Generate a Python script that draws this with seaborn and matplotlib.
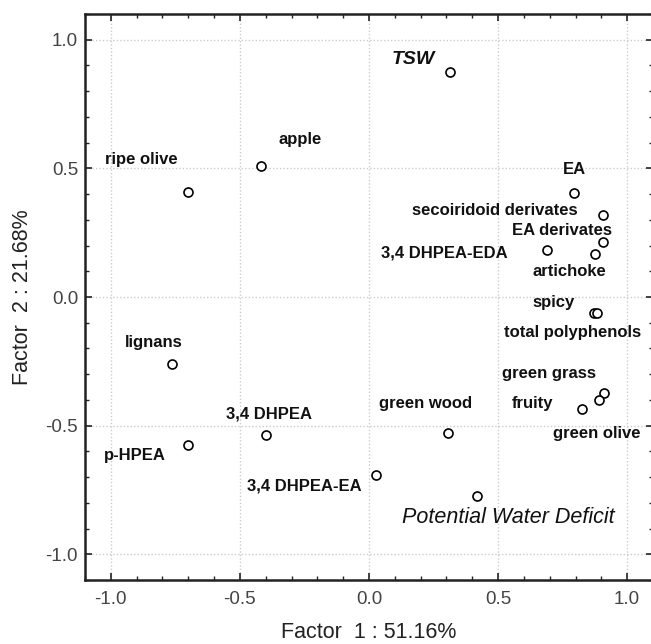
import matplotlib
matplotlib.use("Agg")
import matplotlib.pyplot as plt
import seaborn as sns
import pandas as pd
from matplotlib.ticker import MultipleLocator

# ---- data ----
labels = ["TSW", "ripe olive", "apple", "EA", "secoiridoid derivates", "EA derivates",
          "3,4 DHPEA-EDA", "artichoke", "spicy", "total polyphenols", "green grass",
          "green olive", "fruity", "green wood", "3,4 DHPEA-EA", "Potential Water Deficit",
          "lignans", "3,4 DHPEA", "p-HPEA"]
factor1 = [0.314, -0.70, -0.42, 0.795, 0.907, 0.907, 0.69, 0.876, 0.87, 0.885, 0.91,
           0.89, 0.826, 0.306, 0.027, 0.419, -0.764, -0.40, -0.70]
factor2 = [0.876, 0.407, 0.51, 0.403, 0.32, 0.213, 0.182, 0.167, -0.062, -0.062, -0.372,
           -0.40, -0.434, -0.53, -0.69, -0.775, -0.26, -0.535, -0.574]
x_label = "Factor  1 : 51.16%"
y_label = "Factor  2 : 21.68%"
ticks = [-1.0, -0.5, 0.0, 0.5, 1.0]

# label placement: (dx, dy) pixel offsets, horizontal alignment, style
label_layout = {
    "TSW": (-37, 12, "center", "tsw"),
    "ripe olive": (-47, 33, "center", "b"),
    "apple": (40, 26, "center", "b"),
    "EA": (0, 24, "center", "b"),
    "secoiridoid derivates": (-26, 4, "right", "b"),
    "EA derivates": (-41, 12, "center", "b"),
    "3,4 DHPEA-EDA": (-40, -3, "right", "b"),
    "artichoke": (-26, -17, "center", "b"),
    "spicy": (-40, 10, "center", "b"),
    "total polyphenols": (-25, -20, "center", "b"),
    "green grass": (-55, 19, "center", "b"),
    "green olive": (-2, -34, "center", "b"),
    "fruity": (-50, 5, "center", "b"),
    "green wood": (-22, 30, "center", "b"),
    "3,4 DHPEA-EA": (-14, -11, "right", "b"),
    "Potential Water Deficit": (31, -21, "center", "pwd"),
    "lignans": (-18, 21, "center", "b"),
    "3,4 DHPEA": (3, 21, "center", "b"),
    "p-HPEA": (-53, -11, "center", "b"),
}

df = pd.DataFrame({"label": labels, "f1": factor1, "f2": factor2})

sns.set_theme(style="white")
plt.rcParams["font.family"] = ["Liberation Sans", "DejaVu Sans"]

W, H = 651, 644
fig = plt.figure(figsize=(W / 100, H / 100), dpi=100)
left, right, top, bottom = 85, 653, 14, 580
ax = fig.add_axes([left / W, (H - bottom) / H, (right - left) / W, (bottom - top) / H])

sns.scatterplot(data=df, x="f1", y="f2", ax=ax, marker="o", s=42,
                facecolor="white", edgecolor="black", linewidth=1.2, zorder=3)

ax.set_xlim(-1.1, 1.1)
ax.set_ylim(-1.1, 1.1)
ax.set_xticks(ticks)
ax.set_yticks(ticks)
ax.set_xticklabels([f"{t:.1f}" for t in ticks])
ax.set_yticklabels([f"{t:.1f}" for t in ticks])
ax.xaxis.set_minor_locator(MultipleLocator(0.1))
ax.yaxis.set_minor_locator(MultipleLocator(0.1))
ax.tick_params(which="both", direction="in", top=True, right=True, bottom=True, left=True,
               color="#222222")
ax.tick_params(which="major", length=5, width=1.2, labelsize=13.5, labelcolor="#444444")
ax.tick_params(axis="x", which="major", pad=8)
ax.tick_params(axis="y", which="major", pad=5)
ax.tick_params(which="minor", length=3, width=1.0)
ax.grid(True, which="major", linestyle=(0, (1, 1.5)), color="#cccccc", linewidth=1.0)
for sp in ax.spines.values():
    sp.set_color("#222222")
    sp.set_linewidth(1.8)

ax.set_xlabel(x_label, fontsize=15.5, color="#222222", labelpad=10)
ax.set_ylabel(y_label, fontsize=15.5, color="#222222", labelpad=9)

for _, row in df.iterrows():
    dx, dy, ha, style = label_layout[row["label"]]
    kw = dict(fontsize=12, fontweight="bold", fontstyle="normal")
    if style == "tsw":
        kw = dict(fontsize=14, fontweight="bold", fontstyle="italic")
    elif style == "pwd":
        kw = dict(fontsize=15.5, fontweight="normal", fontstyle="italic")
    ax.annotate(row["label"], (row["f1"], row["f2"]), xytext=(dx, dy),
                textcoords="offset pixels", ha=ha, va="center", color="#111111",
                zorder=4, **kw)

fig.savefig("out.png", dpi=100)
